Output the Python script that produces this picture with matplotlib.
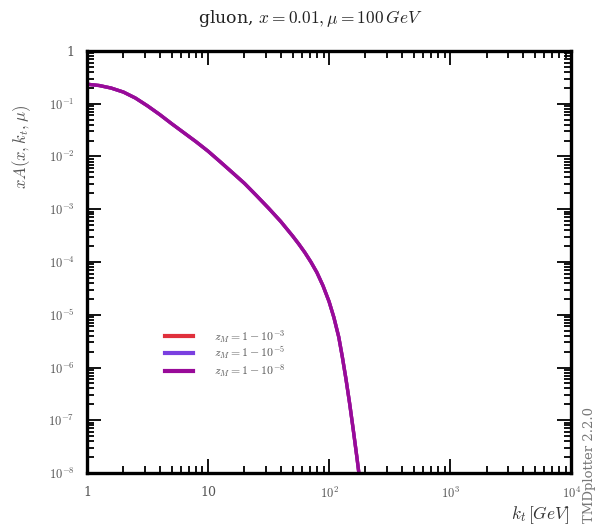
import matplotlib
matplotlib.use("Agg")
import matplotlib.pyplot as plt
from matplotlib.ticker import LogLocator, FixedLocator, NullFormatter

plt.rcParams['mathtext.fontset'] = 'cm'
plt.rcParams['font.family'] = ['DejaVu Serif']

# data
kt = [1, 1.26, 1.58, 2.0, 2.51, 3.16, 3.98, 5.01, 6.31, 7.94, 10, 12.6, 15.8,
      20, 25.1, 31.6, 39.8, 50.1, 56.2, 63.1, 70.8, 79.4, 89.1, 100, 109.6,
      120.2, 128.8, 138.0, 147.9, 158.5, 169.8, 182.0]
xA_base = [0.234, 0.221, 0.198, 0.166, 0.128, 0.0910, 0.0625, 0.0417, 0.0282,
           0.0191, 0.0126, 0.00794, 0.00501, 0.00309, 0.00182, 0.00105, 5.89e-4,
           3.09e-4, 2.19e-4, 1.51e-4, 1.0e-4, 6.31e-5, 3.55e-5, 1.78e-5, 8.91e-6,
           3.80e-6, 1.58e-6, 6.03e-7, 2.09e-7, 6.61e-8, 2.0e-8, 5.62e-9]
xA_zm3 = list(xA_base)
xA_zm5 = list(xA_base)
xA_zm8 = list(xA_base)
labels = [r'$z_{M} = 1 - 10^{-3}$', r'$z_{M} = 1 - 10^{-5}$', r'$z_{M} = 1 - 10^{-8}$']
colors = ['#e0303c', '#7a3fe0', '#990a99']

xticks = [1, 10, 100, 1000, 10000]
xticklabels = ['1', '10', r'$10^{2}$', r'$10^{3}$', r'$10^{4}$']
yticks = [1e-8, 1e-7, 1e-6, 1e-5, 1e-4, 1e-3, 1e-2, 1e-1, 1]
yticklabels = [r'$10^{-8}$', r'$10^{-7}$', r'$10^{-6}$', r'$10^{-5}$', r'$10^{-4}$',
               r'$10^{-3}$', r'$10^{-2}$', r'$10^{-1}$', '1']

fig = plt.figure(figsize=(5.98, 5.25), dpi=100)
ax = fig.add_axes([0.1455, 0.099, 0.8095, 0.804])

for series, lab, c in zip([xA_zm3, xA_zm5, xA_zm8], labels, colors):
    ax.plot(kt, series, color=c, lw=2.4, label=lab, solid_joinstyle='round')

ax.set_xscale('log')
ax.set_yscale('log')
ax.set_xlim(1, 1e4)
ax.set_ylim(1e-8, 1)

ax.xaxis.set_major_locator(FixedLocator(xticks))
ax.set_xticklabels(xticklabels)
ax.yaxis.set_major_locator(FixedLocator(yticks))
ax.set_yticklabels(yticklabels)
ax.xaxis.set_minor_locator(LogLocator(base=10, subs=range(2, 10), numticks=20))
ax.yaxis.set_minor_locator(LogLocator(base=10, subs=range(2, 10), numticks=20))
ax.xaxis.set_minor_formatter(NullFormatter())
ax.yaxis.set_minor_formatter(NullFormatter())

ax.tick_params(which='both', direction='in', top=True, right=True,
               colors='black', labelcolor='#555555', labelsize=9, width=1.3)
ax.tick_params(which='major', length=10, pad=9)
ax.tick_params(which='minor', length=5)
for s in ax.spines.values():
    s.set_linewidth(2.4)

fig.text(0.518, 0.965, r'gluon, $x = 0.01, \mu = 100\,GeV$', ha='center', va='center',
         fontsize=12.5, color='#222222')
fig.text(0.037, 0.72, r'$xA(x, k_t, \mu)$', rotation=90, ha='center', va='center',
         fontsize=12, color='#555555')
fig.text(0.953, 0.018, r'$k_t\,[GeV]$', ha='right', va='center', fontsize=12.5,
         color='#333333')
fig.text(0.986, 0.004, 'TMDplotter 2.2.0', rotation=90, ha='center', va='bottom',
         fontsize=9.5, color='#777777')

leg = ax.legend(loc='center left', bbox_to_anchor=(0.14, 0.283), frameon=False,
                fontsize=8.5, handlelength=2.3, labelspacing=0.0, handletextpad=1.8,
                labelcolor='#555555')
for line in leg.get_lines():
    line.set_linewidth(3)

fig.savefig('out.png', dpi=100)
